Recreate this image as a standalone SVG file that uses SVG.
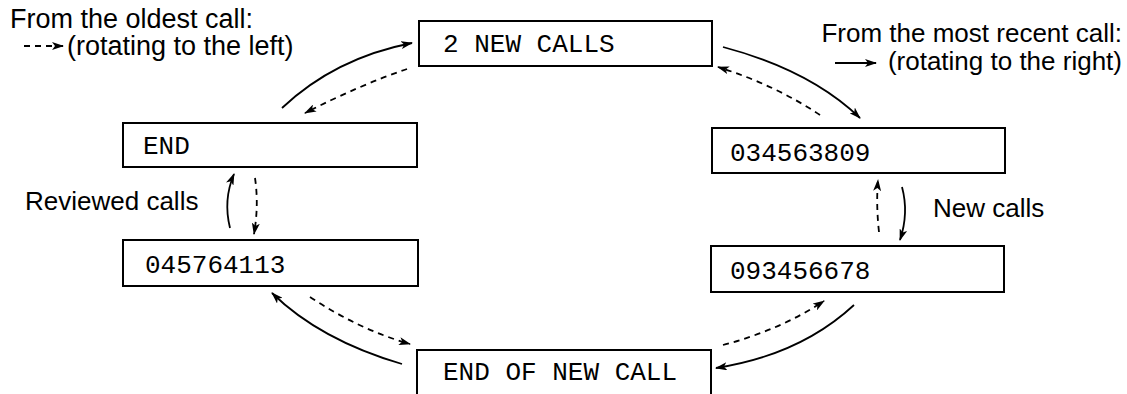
<svg xmlns="http://www.w3.org/2000/svg" width="1127" height="394" viewBox="0 0 1127 394">
<style>
.box{fill:#fff;stroke:#000;stroke-width:2}
.mono{font-family:"Liberation Mono","Courier New",monospace;font-size:26px;fill:#000}
.lbl{font-family:"Liberation Sans",Arial,Helvetica,sans-serif;font-size:26px;fill:#000}
.big{font-size:27px}
.c{fill:none;stroke:#000;stroke-width:1.8;marker-end:url(#ah)}
.d{stroke-dasharray:6 5}
</style>
<defs>
<marker id="ah" viewBox="0 0 12 8" refX="11" refY="4" markerWidth="12" markerHeight="8" markerUnits="userSpaceOnUse" orient="auto">
<path d="M0,0 L12,4 L0,8 L3,4 z" fill="#000"/>
</marker>
</defs>
<rect width="1127" height="394" fill="#fff"/>
<g id="legend-left">
<text class="lbl big" x="10" y="28">From the oldest call:</text>
<path class="c d" d="M24,46 L63,46"/>
<text class="lbl big" x="67" y="55">(rotating to the left)</text>
</g>
<g id="legend-right">
<text class="lbl" x="1122" y="42" text-anchor="end">From the most recent call:</text>
<path class="c" d="M835,63 L876,63"/>
<text class="lbl" x="1122" y="70" text-anchor="end">(rotating to the right)</text>
</g>
<g id="label-reviewed"><text class="lbl" x="25" y="210">Reviewed calls</text></g>
<g id="label-new"><text class="lbl" x="933" y="217">New calls</text></g>
<g id="n-2newcalls"><rect class="box" x="419" y="21" width="293" height="45"/><text class="mono" x="443" y="52">2 NEW CALLS</text></g>
<g id="n-end"><rect class="box" x="123" y="123" width="294" height="44"/><text class="mono" x="143" y="154">END</text></g>
<g id="n-034563809"><rect class="box" x="712" y="128" width="293" height="45"/><text class="mono" x="730" y="161">034563809</text></g>
<g id="n-045764113"><rect class="box" x="123" y="240" width="295" height="46"/><text class="mono" x="145" y="273">045764113</text></g>
<g id="n-093456678"><rect class="box" x="711" y="246" width="293" height="46"/><text class="mono" x="730" y="279">093456678</text></g>
<g id="n-endofnewcall"><rect class="box" x="417" y="350" width="294" height="52"/><text class="mono" x="443" y="380">END OF NEW CALL</text></g>
<g id="connectors">
<path class="c" d="M282,108 Q335,58 412,43"/>
<path class="c d" d="M407,69 Q360,85 305,113"/>
<path class="c" d="M723,47 Q810,70 860,118"/>
<path class="c d" d="M820,115 Q775,85 718,67"/>
<path class="c d" d="M879,232 Q876,205 878,180"/>
<path class="c" d="M902,187 Q909,213 900,240"/>
<path class="c d" d="M723,345 Q780,330 824,301"/>
<path class="c" d="M854,305 Q800,355 716,368"/>
<path class="c" d="M402,364 Q320,340 272,293"/>
<path class="c d" d="M310,297 Q360,330 410,344"/>
<path class="c" d="M230,228 Q223,200 234,174"/>
<path class="c d" d="M255,178 Q259,205 254,234"/>
</g>
</svg>
